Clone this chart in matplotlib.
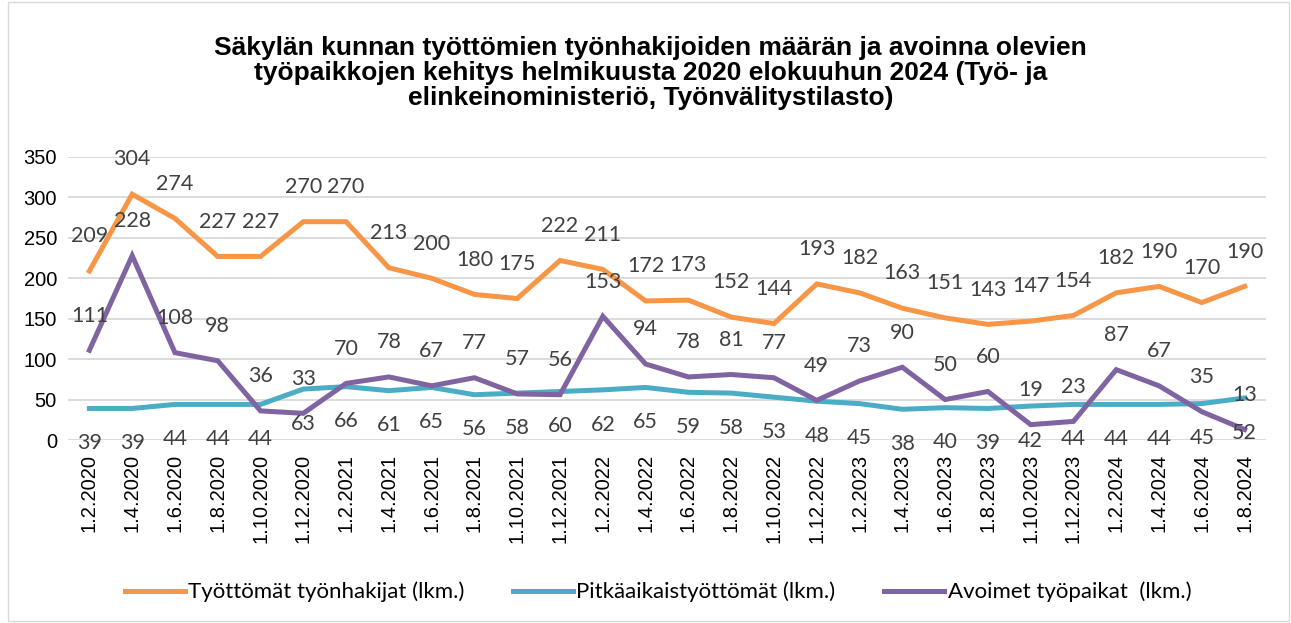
import matplotlib
matplotlib.use("Agg")
import matplotlib.pyplot as plt
from matplotlib.patches import Rectangle

dates = ["1.2.2020", "1.4.2020", "1.6.2020", "1.8.2020", "1.10.2020", "1.12.2020",
         "1.2.2021", "1.4.2021", "1.6.2021", "1.8.2021", "1.10.2021", "1.12.2021",
         "1.2.2022", "1.4.2022", "1.6.2022", "1.8.2022", "1.10.2022", "1.12.2022",
         "1.2.2023", "1.4.2023", "1.6.2023", "1.8.2023", "1.10.2023", "1.12.2023",
         "1.2.2024", "1.4.2024", "1.6.2024", "1.8.2024"]
tyottomat = [209, 304, 274, 227, 227, 270, 270, 213, 200, 180, 175, 222, 211, 172,
             173, 152, 144, 193, 182, 163, 151, 143, 147, 154, 182, 190, 170, 190]
pitkaaik = [39, 39, 44, 44, 44, 63, 66, 61, 65, 56, 58, 60, 62, 65,
            59, 58, 53, 48, 45, 38, 40, 39, 42, 44, 44, 44, 45, 52]
avoimet = [111, 228, 108, 98, 36, 33, 70, 78, 67, 77, 57, 56, 153, 94,
           78, 81, 77, 49, 73, 90, 50, 60, 19, 23, 87, 67, 35, 13]

plt.rcParams["font.family"] = ["Liberation Sans", "DejaVu Sans"]

W, H = 1291, 623
fig = plt.figure(figsize=(W / 100, H / 100), dpi=100)
fig.patches.append(Rectangle((8 / W, 2 / H), 1 - 10 / W, 1 - 4 / H, transform=fig.transFigure,
                             fill=False, ec="#D9D9D9", lw=1))
ax = fig.add_axes([68 / W, 1 - 440 / H, (1266 - 68) / W, 283 / H])

x = list(range(len(dates)))
series = [
    (tyottomat, "#F79646", "Työttömät työnhakijat (lkm.)", 25),
    (pitkaaik, "#4BACC6", "Pitkäaikaistyöttömät (lkm.)", -25),
    (avoimet, "#8064A2", "Avoimet työpaikat  (lkm.)", 25),
]
for vals, col, lab, off in series:
    ax.plot(x, vals, color=col, lw=3.6, label=lab, solid_joinstyle="miter")
    for xi, v in zip(x, vals):
        ax.annotate(str(v), (xi, v), xytext=(0, off), textcoords="offset points",
                    ha="center", va="center", fontsize=15.5, color="#404040",
                    family=["Lato", "DejaVu Sans"])

ax.set_xlim(-0.5, len(dates) - 0.5)
ax.set_ylim(0, 350)
ax.set_yticks(range(0, 351, 50))
ax.set_xticks(x)
ax.set_xticklabels(dates, rotation=90, fontsize=14.5, color="#000000")
ax.tick_params(axis="y", labelsize=14.5, length=0, pad=8)
ax.tick_params(axis="x", length=0, pad=10)
ax.grid(axis="y", color="#D9D9D9", lw=1.3)
ax.set_axisbelow(True)
for s in ax.spines.values():
    s.set_visible(False)

fig.text(0.504, 1 - 73 / H,
         "Säkylän kunnan työttömien työnhakijoiden määrän ja avoinna olevien\n"
         "työpaikkojen kehitys helmikuusta 2020 elokuuhun 2024 (Työ- ja\n"
         "elinkeinoministeriö, Työnvälitystilasto)",
         ha="center", va="center", fontsize=19, fontweight="bold", linespacing=1.06)

fig.legend(loc="center", bbox_to_anchor=(658 / W, 1 - 592 / H), ncol=3, frameon=False,
           handlelength=2.7, columnspacing=2.2, handletextpad=0.15,
           prop={"family": ["Lato", "DejaVu Sans"], "size": 16})

fig.savefig("out.png", dpi=100)
